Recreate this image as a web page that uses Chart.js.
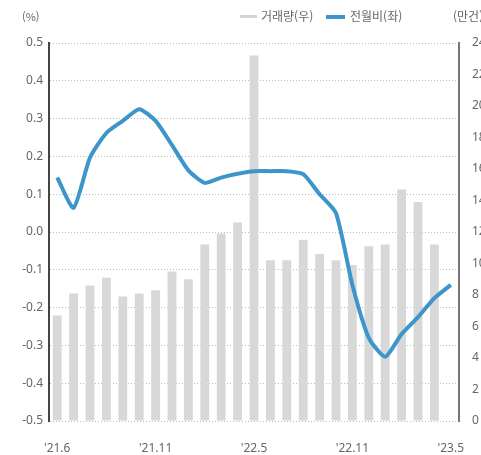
<!DOCTYPE html>
<html lang="ko">
<head>
<meta charset="utf-8">
<title>거래량 · 전월비</title>
<script src="https://cdn.jsdelivr.net/npm/chart.js@4"></script>
<style>
  html, body { margin: 0; padding: 0; background: #fff; overflow: hidden; }
  #wrap { position: relative; width: 481px; height: 455px; overflow: hidden; }
  #chart { position: absolute; left: 0; top: 0; }
  .txt { position: absolute; font: 12px "Noto Sans CJK KR", "Noto Sans", sans-serif; color: #666; line-height: 13px; white-space: nowrap; }
  .sw { position: absolute; height: 3px; }
</style>
</head>
<body>
<div id="wrap">
  <canvas id="chart" width="500" height="455"></canvas>
  <span class="txt" style="left:22px;top:10px;font-size:11px">(%)</span>
  <span class="sw" style="left:240px;top:15px;width:17px;background:#d4d4d4"></span>
  <span class="txt" style="left:261px;top:9px">거래량(우)</span>
  <span class="sw" style="left:326px;top:15px;width:19px;background:#3d95c9;height:4px"></span>
  <span class="txt" style="left:350px;top:9px">전월비(좌)</span>
  <span class="txt" style="left:453px;top:9px">(만건)</span>
</div>
<script>
// monthly series, '21.6 .. '23.5 (only every sixth tick is labelled)
const months = ["'21.6", "", "", "", "", "", "'21.11", "", "", "", "", "", "'22.5",
  "", "", "", "", "", "'22.11", "", "", "", "", "", "'23.5"];

// 거래량 (만건, right axis) - last month not yet available
const volume = [6.7, 8.1, 8.6, 9.1, 7.9, 8.1, 8.3, 9.5, 9.0, 11.2, 11.9, 12.6, 23.2,
  10.2, 10.2, 11.5, 10.6, 10.2, 9.9, 11.1, 11.2, 14.7, 13.9, 11.2, null];

// 전월비 (%, left axis)
const momChange = [0.144, 0.064, 0.197, 0.262, 0.294, 0.325, 0.294, 0.23, 0.163, 0.13,
  0.144, 0.154, 0.161, 0.161, 0.161, 0.153, 0.10, 0.05, -0.14, -0.28, -0.33, -0.27,
  -0.225, -0.175, -0.14];

const tickFont = { family: "'Noto Sans', sans-serif", size: 12 };
const tickColor = '#666';

function fmtPct(v) {
  return (Math.abs(v) < 1e-9 ? 0 : v).toFixed(1);
}

new Chart(document.getElementById('chart'), {
  data: {
    labels: months,
    datasets: [
      {
        type: 'line',
        label: '전월비(좌)',
        data: momChange,
        yAxisID: 'y',
        borderColor: '#3d95c9',
        borderWidth: 4,
        pointRadius: 0,
        tension: 0.2,
        order: 0
      },
      {
        type: 'bar',
        label: '거래량(우)',
        data: volume,
        yAxisID: 'y1',
        backgroundColor: '#d8d8d8',
        barPercentage: 0.54,
        categoryPercentage: 1,
        order: 1
      }
    ]
  },
  options: {
    responsive: false,
    animation: false,
    layout: { padding: { top: 43, left: 0, right: 0, bottom: 0 } },
    plugins: { legend: { display: false }, tooltip: { enabled: false } },
    scales: {
      x: {
        offset: true,
        grid: { display: false },
        border: { display: false },
        ticks: { autoSkip: false, maxRotation: 0, color: tickColor, font: tickFont, padding: 12 },
        afterFit: s => { s.height = 34; }
      },
      y: {
        position: 'left',
        min: -0.5,
        max: 0.5,
        // border.dash dots the grid lines, the axis line itself stays solid
        grid: { color: '#bdbdbd', lineWidth: 1, drawTicks: false },
        border: { color: '#444', width: 2, dash: [1, 2] },
        ticks: { stepSize: 0.1, color: tickColor, font: tickFont, padding: 6, callback: fmtPct },
        afterFit: s => { s.width = 49; }
      },
      y1: {
        position: 'right',
        min: 0,
        max: 24,
        grid: { drawOnChartArea: false, drawTicks: false },
        border: { color: '#777', width: 2 },
        ticks: { stepSize: 2, color: tickColor, font: tickFont, padding: 13 },
        afterFit: s => { s.width = 41; }
      }
    }
  }
});
</script>
</body>
</html>
